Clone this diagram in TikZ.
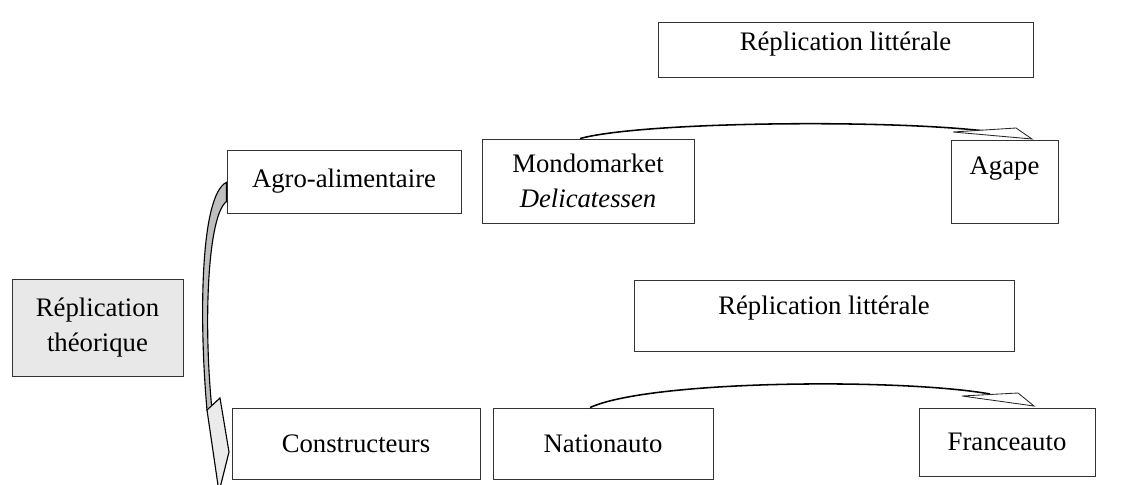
\documentclass[tikz,border=0pt]{standalone}
\usepackage{fontspec}
\setmainfont{Liberation Serif}
\begin{document}
\begin{tikzpicture}[x=0.025cm, y=-0.025cm,
    every node/.style={font=\fontsize{19}{25}\selectfont},
    box/.style={draw=black!80, line width=0.6pt, align=center, inner sep=0pt},
    shaft/.style={line width=1.1pt},
    head/.style={draw=black!85, line width=0.6pt, fill=white}]

    \useasboundingbox (0,0) rectangle (1129,485);

    % upper row
    \node[box, minimum width=9.375cm, minimum height=1.375cm, text depth=0.4cm] (lit1) at (845.5,49.5) {Réplication littérale};
    \node[box, minimum width=5.85cm, minimum height=1.575cm] (agro) at (344,181.5) {Agro-alimentaire};
    \node[box, minimum width=5.3cm, minimum height=2.1cm] (mondo) at (588,181) {Mondomarket\\\textit{Delicatessen}};
    \node[box, minimum width=2.675cm, minimum height=2.075cm, text depth=0.8cm] (agape) at (1004.5,181.5) {Agape};

    % left
    \node[box, fill=black!9, minimum width=4.275cm, minimum height=2.425cm] (theo) at (97.5,327.5) {Réplication\\théorique};

    % lower row
    \node[box, minimum width=9.5cm, minimum height=1.775cm, text depth=0.52cm] (lit2) at (824,315.5) {Réplication littérale};
    \node[box, minimum width=6.2cm, minimum height=1.775cm] (constr) at (356,443.5) {Constructeurs};
    \node[box, minimum width=5.5cm, minimum height=1.775cm] (nat) at (603,443.5) {Nationauto};
    \node[box, minimum width=4.4cm, minimum height=1.7cm] (france) at (1007,442) {Franceauto};

    % curved arrow agro -> constructeurs
    \draw[line width=0.8pt, fill=black!25] ([yshift=-0.02cm]agro.west) .. controls (200,195) and (199,320) .. (207,410)
        -- (212,410) .. controls (203,320) and (208,215) .. ([yshift=-0.5cm]agro.west) -- cycle;
    \draw[line width=0.8pt, fill=black!8] (207,410) -- (220,398) -- (229,452) -- (219,492) -- cycle;

    % curved arrow mondomarket -> agape
    \draw[shaft] ([xshift=-0.2cm]mondo.north) .. controls (640,122) and (880,119) .. (985,131);
    \draw[head] (953,132) -- (1016,128) -- (1032,139) -- cycle;

    % curved arrow nationauto -> franceauto
    \draw[shaft] ([xshift=-0.325cm]nat.north) .. controls (650,380) and (900,378) .. (990,394);
    \draw[head] (962,396) -- (1018,393) -- (1034,406) -- cycle;
\end{tikzpicture}
\end{document}
